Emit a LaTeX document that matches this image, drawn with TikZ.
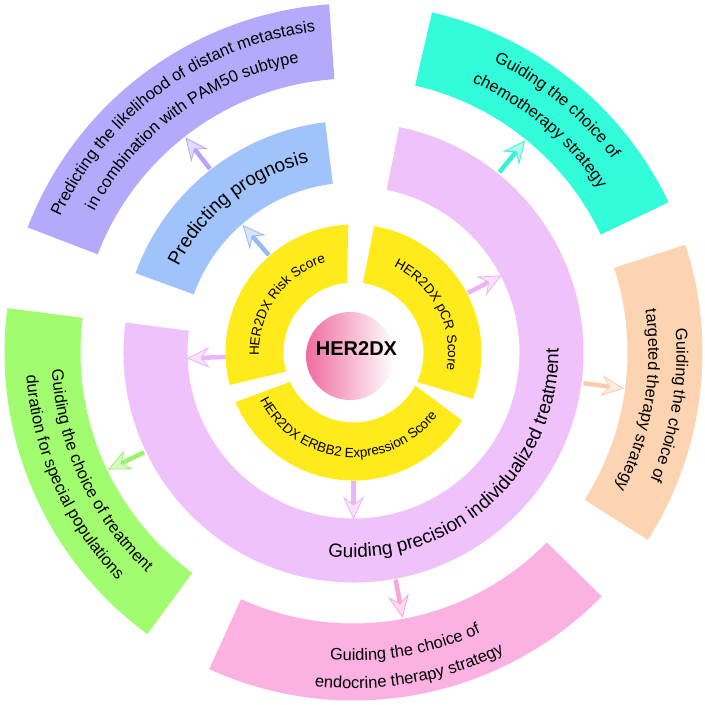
\documentclass[tikz,border=0pt]{standalone}
\usepackage{fontspec}
\setmainfont{Liberation Sans}
\usetikzlibrary{decorations.text,arrows.meta}
\definecolor{cyel}{HTML}{FFEB1C}
\definecolor{cblue}{HTML}{A0C3FB}
\definecolor{cpur}{HTML}{B4A9FB}
\definecolor{clav}{HTML}{F0C2FC}
\definecolor{cteal}{HTML}{33FCDA}
\definecolor{cpeach}{HTML}{FDD4B2}
\definecolor{cpink}{HTML}{FBB1E2}
\definecolor{cgreen}{HTML}{A2FC70}
\definecolor{ccore}{HTML}{EE6C9F}
\definecolor{ablue}{HTML}{98B8F6}
\definecolor{apur}{HTML}{B2A6F8}
\definecolor{alav}{HTML}{EBB4F9}
\definecolor{ateal}{HTML}{38F2D4}
\definecolor{apeach}{HTML}{FBCDAE}
\definecolor{agreen}{HTML}{9CF26C}
\definecolor{apink}{HTML}{F6A6DA}
\newcommand\ringseg[7]{\fill[#1] (#4:#3) arc[start angle=#4,end angle=#5,radius=#3] -- (#7:#2) arc[start angle=#7,end angle=#6,radius=#2] -- cycle;}
\newcommand\cwtext[5]{\path[decorate,decoration={text along path,text align=center,text={|\fontsize{#4}{#4}\selectfont|#5}}] ({#2+#3}:#1) arc[start angle={#2+#3},end angle={#2-#3},radius=#1];}
\newcommand\ccwtext[5]{\path[decorate,decoration={text along path,text align=center,text={|\fontsize{#4}{#4}\selectfont|#5}}] ({#2-#3}:#1) arc[start angle={#2-#3},end angle={#2+#3},radius=#1];}
\begin{document}
\begin{tikzpicture}[x=1pt,y=1pt,
  arr/.style={draw=#1,line width=4.5pt,-{Stealth[length=23pt,width=21pt,inset=8pt,line width=0.8pt,fill=#1!40!white]}}]
\useasboundingbox (-353.5,-352.5) rectangle (351.5,352.5);
% outer ring
\ringseg{cpur}{274}{349}{94}{159}{94}{159}
\ringseg{cteal}{274}{349}{25.5}{77}{25.5}{77}
\ringseg{cpeach}{274}{349}{-32.5}{18}{-32.5}{18}
\ringseg{cpink}{271}{348}{245.5}{315.5}{245.5}{315.5}
\ringseg{cgreen}{273}{349}{172.7}{233.8}{172.7}{233.8}
% middle ring
\ringseg{cblue}{170}{232}{97}{160}{97}{160}
\ringseg{clav}{166}{230}{-187.5}{78.5}{-187.5}{78.5}
% inner ring
\ringseg{cyel}{70}{128}{92.3}{194.7}{95.4}{195.8}
\ringseg{cyel}{70}{128}{-21.2}{80.7}{-24.8}{82.3}
\ringseg{cyel}{70}{128}{202.8}{328}{204.8}{331.8}
% core
\node[circle,minimum size=88pt,inner sep=0pt,left color=ccore,right color=white] (core) at (-3.5,-3.5) {};
\node[font=\bfseries\fontsize{20}{20}\selectfont,inner sep=0pt] (title) at (3,3.5) {HER2DX};
% texts
\cwtext{94.5}{144.5}{60}{13.5}{HER2DX Risk Score}
\cwtext{94.5}{27}{60}{13.5}{HER2DX pCR Score}
\ccwtext{105}{265}{75}{13.5}{HER2DX ERBB2 Expression Score}
\ccwtext{205}{312}{80}{19}{Guiding precision individualized treatment}
\cwtext{195}{128.5}{32}{19}{Predicting prognosis}
\cwtext{323}{126}{40}{16.5}{Predicting the likelihood of distant metastasis}
\cwtext{295}{126}{40}{16.5}{in combination with PAM50 subtype}
\cwtext{323}{50.5}{30}{16.5}{Guiding the choice of}
\cwtext{295}{50}{30}{16.5}{chemotherapy strategy}
\cwtext{323}{-9.5}{30}{16.5}{Guiding the choice of}
\cwtext{295}{-9.5}{30}{16.5}{targeted therapy strategy}
\ccwtext{308}{280}{30}{16.5}{Guiding the choice of}
\ccwtext{336}{280}{30}{16.5}{endocrine therapy strategy}
\ccwtext{302}{205}{30}{16.5}{Guiding the choice of treatment}
\ccwtext{328}{204}{30}{16.5}{duration for special populations}
% arrows
\coordinate (p1) at (131:129);   \coordinate (q1) at (131:169);
\coordinate (p2) at (128:233);   \coordinate (q2) at (128:273);
\coordinate (p3) at (51:232);    \coordinate (q3) at (51:273);
\coordinate (p4) at (27.5:129);  \coordinate (q4) at (27.5:167);
\coordinate (p5) at (-7.6:232);  \coordinate (q5) at (-7.6:273);
\coordinate (p6) at (182:128);   \coordinate (q6) at (182:167);
\coordinate (p7) at (205.5:232); \coordinate (q7) at (205.5:272);
\coordinate (p8) at (270:128);   \coordinate (q8) at (270:167);
\coordinate (p9) at (280.5:231); \coordinate (q9) at (280.5:270);
\draw[arr=ablue] (p1) -- (q1);
\draw[arr=apur] (p2) -- (q2);
\draw[arr=ateal] (p3) -- (q3);
\draw[arr=alav] (p4) -- (q4);
\draw[arr=apeach] (p5) -- (q5);
\draw[arr=alav] (p6) -- (q6);
\draw[arr=agreen] (p7) -- (q7);
\draw[arr=alav] (p8) -- (q8);
\draw[arr=apink] (p9) -- (q9);
\end{tikzpicture}
\end{document}
